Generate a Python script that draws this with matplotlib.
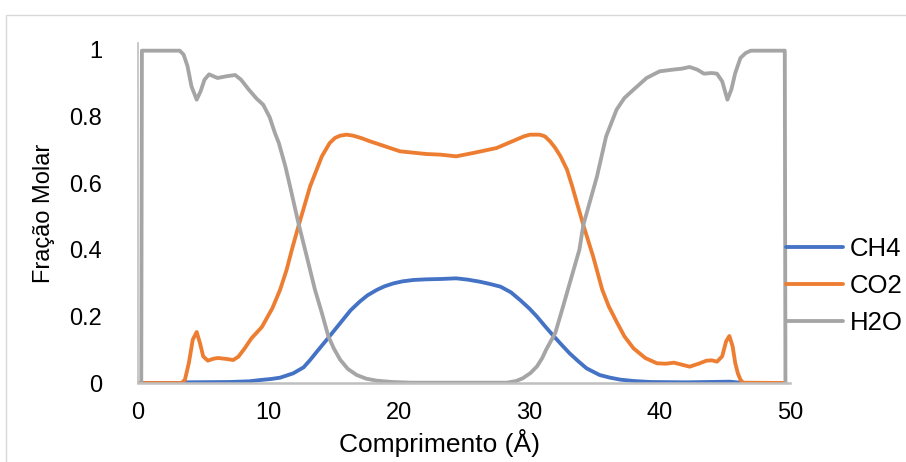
import matplotlib
matplotlib.use("Agg")
import matplotlib.pyplot as plt
from matplotlib.lines import Line2D

# series (x in Å, y = molar fraction)
ch4_x = [0, 3.3, 3.6, 7.0, 8.5, 9.4, 10.2, 10.9, 11.9, 12.7, 13.2, 13.8, 14.5,
         15.1, 15.7, 16.3, 17.0, 17.6, 18.3, 18.9, 19.6, 20.3, 21.1, 22.1,
         23.2, 24.4, 25.3, 26.2, 27.0, 27.8, 28.6, 29.3, 30.0, 30.6, 31.2,
         31.8, 32.5, 33.1, 33.8, 34.4, 35.4, 36.2, 37.0, 38.0, 39.3, 42.0,
         45.4, 46.4, 49.6]
ch4_y = [0, 0, 0.002, 0.003, 0.005, 0.009, 0.012, 0.016, 0.029, 0.047, 0.069,
         0.098, 0.131, 0.16, 0.189, 0.218, 0.244, 0.263, 0.279, 0.29, 0.299,
         0.305, 0.309, 0.311, 0.312, 0.314, 0.31, 0.304, 0.297, 0.289, 0.272,
         0.249, 0.224, 0.199, 0.171, 0.144, 0.114, 0.089, 0.064, 0.044, 0.024,
         0.016, 0.010, 0.006, 0.003, 0.002, 0.004, 0, 0]

co2_x = [0, 3.35, 3.6, 3.9, 4.2, 4.5, 4.75, 5.0, 5.35, 5.8, 6.15, 6.8, 7.3,
         7.7, 8.2, 8.7, 9.5, 10.3, 10.9, 11.4, 11.8, 12.3, 13.2, 14.1, 14.7,
         15.1, 15.5, 16.0, 16.5, 17.1, 17.8, 19.1, 20.1, 22.1, 23.2, 24.4,
         25.7, 27.5, 29.0, 29.6, 30.06, 30.8, 31.2, 31.6, 32.0, 32.4, 32.9,
         33.3, 33.7, 34.15, 34.9, 35.6, 36.1, 36.7, 37.3, 38.0, 38.9, 39.8,
         40.5, 41.1, 41.7, 42.3, 43.0, 43.6, 44.0, 44.4, 44.8, 45.1, 45.35,
         45.6, 45.8, 46.0, 46.2, 46.4, 49.6]
co2_y = [0, 0, 0.01, 0.06, 0.13, 0.153, 0.12, 0.08, 0.067, 0.073, 0.075, 0.072,
         0.069, 0.079, 0.105, 0.134, 0.168, 0.224, 0.28, 0.34, 0.40, 0.47,
         0.59, 0.68, 0.72, 0.735, 0.742, 0.745, 0.742, 0.735, 0.725, 0.708,
         0.695, 0.687, 0.685, 0.68, 0.69, 0.705, 0.73, 0.74, 0.745, 0.745,
         0.74, 0.725, 0.705, 0.68, 0.64, 0.59, 0.535, 0.474, 0.38, 0.28, 0.23,
         0.184, 0.14, 0.104, 0.075, 0.059, 0.058, 0.061, 0.055, 0.049, 0.058,
         0.067, 0.068, 0.064, 0.08, 0.125, 0.141, 0.11, 0.06, 0.029, 0.01,
         0.001, 0]

h2o_x = [0.25, 0.3, 3.2, 3.5, 3.8, 4.1, 4.5, 4.8, 5.1, 5.45, 5.8, 6.1, 6.75,
         7.45, 7.9, 8.5, 9.1, 9.6, 10.1, 10.5, 10.8, 11.3, 11.66, 12.3, 12.94,
         13.57, 14.1, 14.6, 15.0, 15.5, 16.1, 16.77, 17.5, 18.3, 19.5, 20.9,
         28.3, 29.0, 29.5, 30.1, 30.6, 31.0, 31.3, 32.0, 32.6, 33.26, 33.85,
         34.15, 35.2, 35.9, 36.7, 37.3, 38.0, 39.0, 40.0, 41.0, 41.7, 42.3,
         42.9, 43.4, 44.0, 44.4, 44.8, 45.2, 45.5, 45.8, 46.2, 46.6, 47.0,
         49.6, 49.65]
h2o_y = [0, 0.997, 0.997, 0.985, 0.95, 0.89, 0.85, 0.875, 0.91, 0.926, 0.92,
         0.915, 0.92, 0.924, 0.91, 0.88, 0.853, 0.835, 0.797, 0.75, 0.72, 0.65,
         0.59, 0.48, 0.38, 0.28, 0.21, 0.14, 0.105, 0.07, 0.042, 0.024, 0.013,
         0.007, 0.003, 0.001, 0.001, 0.006, 0.014, 0.03, 0.05, 0.075, 0.10,
         0.15, 0.23, 0.32, 0.40, 0.474, 0.62, 0.74, 0.82, 0.855, 0.88, 0.915,
         0.935, 0.94, 0.943, 0.948, 0.94, 0.928, 0.93, 0.928, 0.905, 0.85,
         0.88, 0.93, 0.975, 0.99, 0.997, 0.997, 0]

series = [("CH4", ch4_x, ch4_y, "#4472C4"),
          ("CO2", co2_x, co2_y, "#ED7D31"),
          ("H2O", h2o_x, h2o_y, "#A5A5A5")]

plt.rcParams["font.family"] = ["Liberation Sans", "DejaVu Sans"]

fig = plt.figure(figsize=(9.06, 4.62), dpi=100)
ax = fig.add_axes([138 / 906, 79 / 462, 652 / 906, 340 / 462])

for name, xs, ys, col in series:
    ax.plot(xs, ys, color=col, linewidth=2.75, label=name,
            solid_capstyle="round", solid_joinstyle="round")

ax.set_xlim(0, 50)
ax.set_ylim(0, 1.02)
ax.set_xticks([0, 10, 20, 30, 40, 50])
ax.set_yticks([0, 0.2, 0.4, 0.6, 0.8, 1])
ax.set_yticklabels(["0", "0.2", "0.4", "0.6", "0.8", "1"])
ax.tick_params(length=0, labelsize=17, colors="#000000")
ax.tick_params(axis="y", pad=26)
ax.tick_params(axis="x", pad=14)

for side in ["top", "right"]:
    ax.spines[side].set_visible(False)
ax.spines["left"].set_color("#bfbfbf")
ax.spines["left"].set_linewidth(1.2)
ax.spines["bottom"].set_color("#bfbfbf")
ax.spines["bottom"].set_linewidth(1.8)

ax.set_xlabel("Comprimento (Å)", fontsize=19)
ax.xaxis.set_label_coords(0.462, -0.135)
ax.set_ylabel("Fração Molar", fontsize=17, labelpad=10)

fig.legend(loc="center left", bbox_to_anchor=(786 / 906, 1 - 286 / 462),
           frameon=False, fontsize=18.5, handlelength=2.2, handletextpad=0.3,
           labelspacing=0.5, borderaxespad=0, borderpad=0)

# outer chart border
fig.add_artist(Line2D([5.5 / 906, 5.5 / 906, 1], [0, 1 - 14.5 / 462, 1 - 14.5 / 462],
                      transform=fig.transFigure, color="#d9d9d9", linewidth=1))

fig.savefig("out.png", dpi=100)
